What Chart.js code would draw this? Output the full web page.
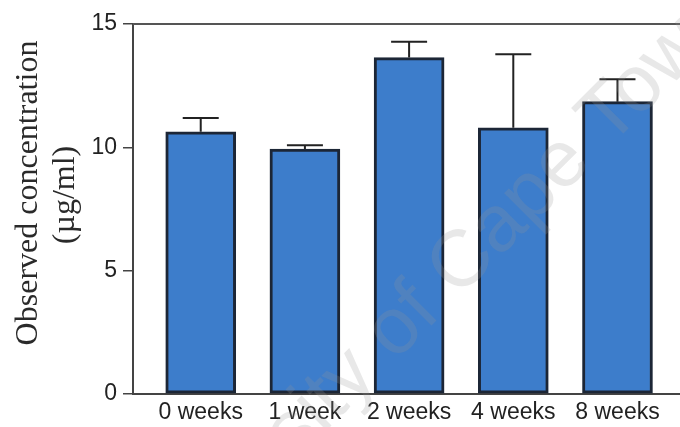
<!DOCTYPE html>
<html>
<head>
<meta charset="utf-8">
<script src="https://cdn.jsdelivr.net/npm/chart.js@4/dist/chart.umd.min.js"></script>
<style>
  html, body { margin: 0; padding: 0; background: #fff; }
  #wrap { width: 680px; height: 427px; }
</style>
</head>
<body>
<div id="wrap"><canvas id="c" width="680" height="427"></canvas></div>
<script>
// Observed concentration (µg/ml) over storage time, mean + SD
const timepoints = ['0 weeks', '1 week', '2 weeks', '4 weeks', '8 weeks'];
const meanConc = [10.63, 9.93, 13.64, 10.79, 11.85];
const sdConc = [0.56, 0.15, 0.64, 2.98, 0.91];
const yTicks = [0, 5, 10, 15];

const INK = '#222';

// upward-only error bars with caps
const errorBars = {
  id: 'errorBars',
  afterDatasetsDraw(chart) {
    const { ctx, scales: { x, y } } = chart;
    ctx.save();
    ctx.strokeStyle = INK;
    ctx.lineWidth = 2;
    meanConc.forEach((m, i) => {
      const px = x.getPixelForValue(i);
      const base = y.getPixelForValue(m);
      const top = y.getPixelForValue(m + sdConc[i]);
      ctx.beginPath();
      ctx.moveTo(px, base);
      ctx.lineTo(px, top);
      ctx.moveTo(px - 18, top);
      ctx.lineTo(px + 18, top);
      ctx.stroke();
    });
    ctx.restore();
  }
};

// top edge of the plot frame
const frameTop = {
  id: 'frameTop',
  afterDraw(chart) {
    const { ctx, chartArea: a } = chart;
    ctx.save();
    ctx.strokeStyle = '#555';
    ctx.lineWidth = 2;
    ctx.beginPath();
    ctx.moveTo(a.left, a.top);
    ctx.lineTo(a.right, a.top);
    ctx.stroke();
    ctx.restore();
  }
};

// two-line serif y-axis title
const yTitle = {
  id: 'yTitle',
  afterDraw(chart) {
    const { ctx } = chart;
    ctx.save();
    ctx.fillStyle = '#2a2a2a';
    ctx.font = '32px "Liberation Serif"';
    ctx.textAlign = 'center';
    ctx.textBaseline = 'alphabetic';
    [['Observed concentration', 37, 193], ['(µg/ml)', 74, 195]].forEach(([t, bx, cy]) => {
      ctx.save();
      ctx.translate(bx, cy);
      ctx.rotate(-Math.PI / 2);
      ctx.fillText(t, 0, 0);
      ctx.restore();
    });
    ctx.restore();
  }
};

// faint diagonal watermark
const watermark = {
  id: 'watermark',
  afterDraw(chart) {
    const { ctx } = chart;
    const text = 'University of Cape Town';
    const prefix = 'University ';
    ctx.save();
    ctx.font = '80px "Liberation Sans"';
    const w = ctx.measureText(prefix).width;
    const ang = -Math.PI / 4;
    const ox = 395, oy = 362; // start of "of"
    const sx = ox - w * Math.cos(ang);
    const sy = oy - w * Math.sin(ang);
    ctx.translate(sx, sy);
    ctx.rotate(ang);
    ctx.fillStyle = 'rgba(150,150,150,0.22)';
    ctx.textAlign = 'left';
    ctx.textBaseline = 'alphabetic';
    ctx.fillText(text, 0, 0);
    ctx.restore();
  }
};

new Chart(document.getElementById('c'), {
  type: 'bar',
  data: {
    datasets: [{
      data: meanConc.map((v, i) => ({ x: i, y: v })),
      backgroundColor: '#3d7dcb',
      borderColor: '#1c2636',
      borderWidth: 3,
      borderSkipped: false,
      barThickness: 70
    }]
  },
  options: {
    responsive: false,
    devicePixelRatio: 1,
    animation: false,
    layout: { padding: { top: 24, right: 0, bottom: 0, left: 0 } },
    plugins: { legend: { display: false }, tooltip: { enabled: false }, title: { display: false } },
    scales: {
      x: {
        type: 'linear',
        offset: false,
        min: -0.65,
        max: 4.6,
        afterBuildTicks(scale) { scale.ticks = timepoints.map((_, i) => ({ value: i })); },
        afterFit(scale) { scale.height = 33; },
        grid: { display: true, drawOnChartArea: false, drawTicks: false },
        border: { display: true, color: '#444', width: 2 },
        ticks: {
          autoSkip: false,
          maxRotation: 0,
          padding: 5,
          color: INK,
          font: { family: '"Liberation Sans"', size: 23 },
          callback: (v) => timepoints[v] ?? ''
        }
      },
      y: {
        min: 0,
        max: 15,
        afterBuildTicks(scale) { scale.ticks = yTicks.map(v => ({ value: v })); },
        afterFit(scale) { scale.width = 133; },
        grid: { display: true, drawOnChartArea: false, drawTicks: true, tickLength: 10, color: '#444', lineWidth: 1.5 },
        border: { display: true, color: '#444', width: 2 },
        ticks: {
          padding: 6,
          color: INK,
          font: { family: '"Liberation Sans"', size: 23 }
        }
      }
    }
  },
  plugins: [errorBars, frameTop, yTitle, watermark]
});
</script>
</body>
</html>
